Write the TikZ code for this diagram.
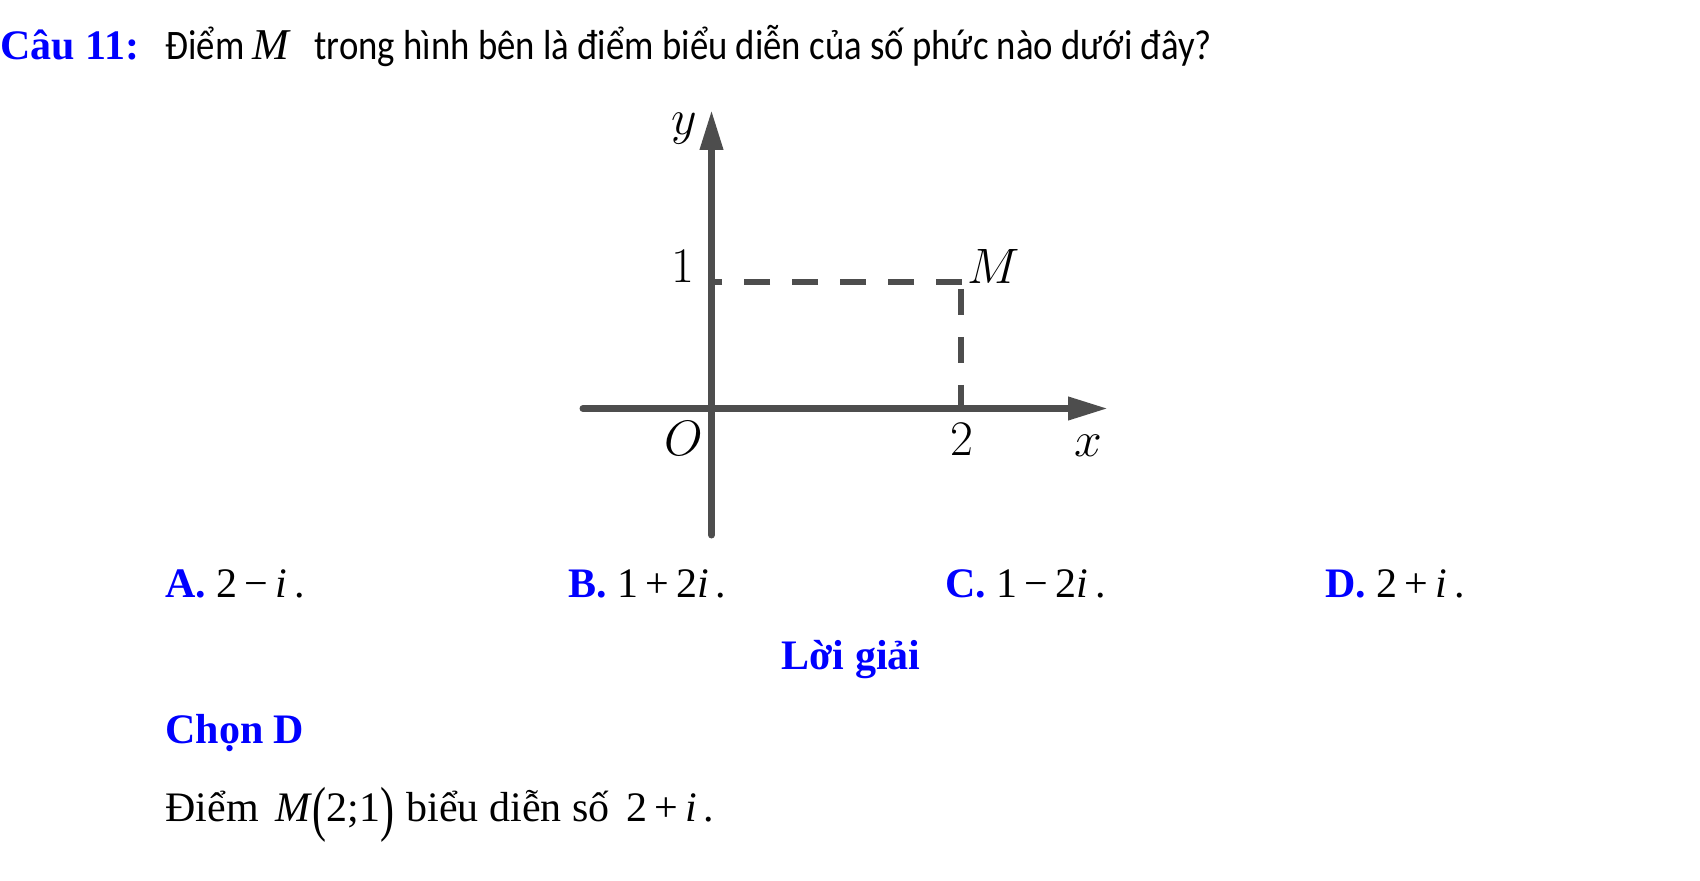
\documentclass[tikz,border=0pt]{standalone}
\usepackage[no-math]{fontspec}
\usepackage{graphicx}
\setmainfont{Liberation Serif}
\newfontfamily\calib[FakeStretch=0.875]{Carlito}
\usetikzlibrary{arrows.meta}
\definecolor{axcol}{RGB}{77,77,77}
\definecolor{qblue}{RGB}{0,0,255}
\newcommand{\bigpar}[1]{\raisebox{-0.2em}{\scalebox{1}[1.45]{#1}}}
\begin{document}
\begin{tikzpicture}[x=0.5pt,y=-0.5pt,
  txt/.style={anchor=base west, inner sep=0pt, font=\fontsize{21}{25}\selectfont},
  bluebold/.style={anchor=base west, inner sep=0pt, text=qblue, font=\fontsize{21}{25}\selectfont\bfseries},
  lbl/.style={anchor=base, inner sep=0pt, font=\fontsize{23}{27}\selectfont},
  axisline/.style={draw=axcol, line width=3.5pt, line cap=round, -{Triangle[length=20pt,width=11pt]}},
  dashline/.style={draw=axcol, line width=3pt, dash pattern=on 13pt off 11pt}]
\useasboundingbox (0,0) rectangle (1700,881);

% question
\node[bluebold] (cau) at (0,60) {Câu 11:};
\node[txt] (q) at (165,60) {\calib Điểm\hspace{0.2em}{\rmfamily\itshape\fontsize{22}{25}\selectfont M}\hspace{0.6em}trong hình bên là điểm biểu diễn của số phức nào dưới đây?};

% graph
\coordinate (O) at (711.5,408.5);
\coordinate (ybot) at (711.5,535);
\coordinate (ytop) at (711.5,110);
\coordinate (xleft) at (583,408.5);
\coordinate (xright) at (1108,408.5);
\coordinate (M) at (962,282);
\coordinate (Y1) at (713,282);
\coordinate (Mv) at (961,289);
\coordinate (X2) at (961,408.5);

\draw[dashline] (M) -- (Y1);
\draw[dashline] (Mv) -- (X2);
\draw[axisline] (ybot) -- (ytop);
\draw[axisline] (xleft) -- (xright);

\node[lbl] (ylab) at (684,135) {$y$};
\node[lbl] (one) at (683,283) {$1$};
\node[lbl] (Mlab) at (994,284) {$M$};
\node[lbl] (Olab) at (684,455) {$O$};
\node[lbl] (two) at (962,455) {$2$};
\node[lbl] (xlab) at (1088,457) {$x$};

% answers
\node[txt] (ansA) at (165,597) {\textcolor{qblue}{\textbf{A.}} 2\,−\,\textit{i}\,.};
\node[txt] (ansB) at (568,597) {\textcolor{qblue}{\textbf{B.}} 1\,+\,2\textit{i}\,.};
\node[txt] (ansC) at (945,597) {\textcolor{qblue}{\textbf{C.}} 1\,−\,2\textit{i}\,.};
\node[txt] (ansD) at (1325,597) {\textcolor{qblue}{\textbf{D.}} 2\,+\,\textit{i}\,.};

% solution
\node[anchor=base, inner sep=0pt, text=qblue, font=\fontsize{21}{25}\selectfont\bfseries] (lg) at (851,669) {Lời giải};
\node[bluebold] (chon) at (165,743) {Chọn D};
\node[txt] (sol) at (165,821) {Điểm\hspace{0.4em}\textit{M}\bigpar{(}2;1\bigpar{)}\hspace{0.3em}biểu diễn số\hspace{0.4em}2\,+\,\textit{i}\,.};
\end{tikzpicture}
\end{document}
